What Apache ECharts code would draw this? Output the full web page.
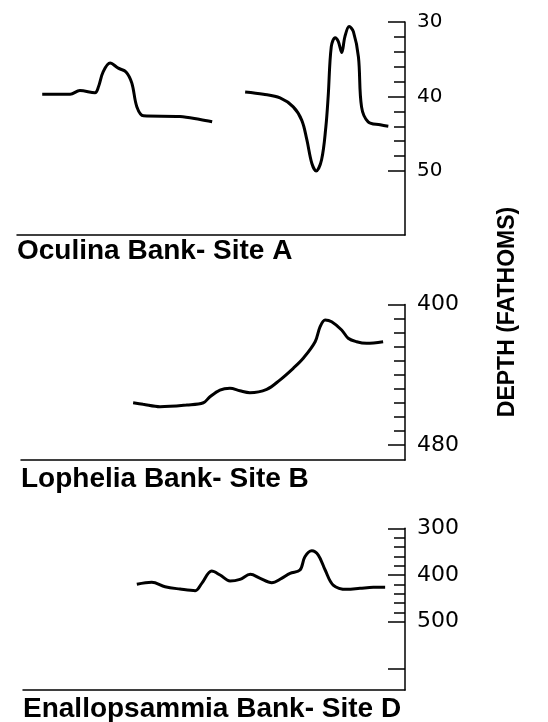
<!DOCTYPE html>
<html>
<head>
<meta charset="utf-8">
<script src="https://cdn.jsdelivr.net/npm/echarts@6/dist/echarts.min.js"></script>
<style>
html,body{margin:0;padding:0;background:#fff;}
#chart{width:548px;height:722px;}
</style>
</head>
<body>
<div id="chart"></div>
<script>
// ---- Data (horizontal distance in arbitrary units 0-100, depth in fathoms) ----
const oculinaWestX = [6.5,13.7,16.2,20.1,21.0,22.2,24.0,26.1,28.1,29.6,30.9,32.6,42.0,47.2,50.3];
const oculinaWestDepth = [39.7,39.7,39.2,39.5,38.7,36.7,35.5,36.2,36.7,38.2,41.4,42.6,42.7,43.1,43.4];
const oculinaEastX = [58.8,63.5,67.8,71.2,73.4,74.7,76.0,77.1,78.5,79.6,80.2,81.0,82.0,82.8,83.7,84.5,85.6,86.7,88.0,88.8,90.5,93.6,95.7];
const oculinaEastDepth = [39.4,39.7,40.2,41.4,43.2,45.8,49.0,50.0,48.5,44.1,40.0,33.3,32.1,32.6,34.1,32.0,30.6,31.3,34.7,41.4,43.4,43.8,44.0];

const opheliaX = [29.2,31.8,36.2,43.2,47.5,49.2,51.8,54.4,57.0,59.6,64.0,67.4,70.9,73.5,76.6,77.9,79.2,80.9,83.5,85.2,87.4,90.0,94.3];
const opheliaDepth = [455.9,456.8,458.2,457.2,455.9,452.5,448.7,447.7,449.1,450.2,448.3,443.0,436.3,430.6,421.2,412.6,408.8,409.8,414.5,419.2,421.2,422.1,421.2];

const enallX = [29.8,33.7,37.2,41.1,45.1,46.8,49.4,51.6,54.2,56.8,59.5,62.1,65.1,67.7,69.9,72.5,73.8,75.6,77.3,79.1,81.2,84.8,88.2,91.7,94.8];
const enallDepth = [419.9,415.6,425.1,430.0,433.6,417.8,391.4,400.0,412.8,409.2,398.5,407.1,416.5,407.1,396.4,389.3,360.8,348.0,357.2,389.3,421.4,430.6,428.5,426.3,426.3];

// tick values
const ticksA_major = [30,40,50];
const ticksA_minor = [32,34,36,38,42,44,46,48];
const labelsA = [30,40,50];
const ticksB_major = [400,480];
const ticksB_minor = [408,416,424,432,440,448,456,464,472];
const labelsB = [400,480];
const ticksD_major = [300,400,500,600];
const ticksD_minor = [320,340,360,380,420,440,460,480];
const labelsD = [300,400,500];

const panelTitles = ['Oculina Bank- Site A','Lophelia Bank- Site B','Enallopsammia Bank- Site D'];
const depthTitle = 'DEPTH (FATHOMS)';

const zip = (xs, ys) => xs.map((x, i) => [x, ys[i]]);

const chart = echarts.init(document.getElementById('chart'), null, {renderer:'canvas'});

const panelGrids = [
  {left:17, top:22, width:388, height:213},
  {left:21, top:304.5, width:384, height:155.5},
  {left:23, top:528.3, width:382, height:161.7}
];
const ranges = [[30,58.6],[400,488.5],[300,646]];
const majors = [ticksA_major, ticksB_major, ticksD_major];
const minors = [ticksA_minor, ticksB_minor, ticksD_minor];
const labels = [labelsA, labelsB, labelsD];
const labelSizes = [20,22,22];

// grids 0-2: main panels; grids 3-5: overlays carrying the minor ticks
const grids = [...panelGrids, ...panelGrids.map(g => ({...g}))];

const xAxes = [];
const yAxes = [];
panelGrids.forEach((g, i) => {
  xAxes.push({
    type:'value', gridIndex:i, min:0, max:100, position:'bottom',
    axisLine:{show:true, onZero:false, lineStyle:{color:'#000', width:1.5}},
    axisTick:{show:false}, axisLabel:{show:false}, splitLine:{show:false}
  });
  yAxes.push({
    type:'value', gridIndex:i, position:'right', inverse:true,
    min:ranges[i][0], max:ranges[i][1],
    axisLine:{show:true, onZero:false, lineStyle:{color:'#000', width:1.5}},
    axisTick:{show:true, inside:true, length:17, customValues:majors[i], lineStyle:{color:'#000', width:1.5}},
    axisLabel:{show:true, customValues:labels[i], margin:12, color:'#000', fontSize:labelSizes[i], fontFamily:'DejaVu Sans'},
    splitLine:{show:false}
  });
});
panelGrids.forEach((g, i) => {
  xAxes.push({
    type:'value', gridIndex:i+3, min:0, max:100, show:false
  });
  yAxes.push({
    type:'value', gridIndex:i+3, position:'right', inverse:true,
    min:ranges[i][0], max:ranges[i][1],
    axisLine:{show:false, onZero:false},
    axisTick:{show:true, inside:true, length:11, customValues:minors[i], lineStyle:{color:'#000', width:1.5}},
    axisLabel:{show:false},
    splitLine:{show:false}
  });
});

const lineStyle = {color:'#000', width:3};
const mk = (data, gi) => ({
  type:'line', xAxisIndex:gi, yAxisIndex:gi, data, smooth:0.35,
  showSymbol:false, symbol:'none', lineStyle, silent:true
});

const titleY = [252, 480, 710];
const titleX = [17, 21, 23];

chart.setOption({
  animation:false,
  backgroundColor:'#fff',
  grid:grids,
  xAxis:xAxes,
  yAxis:yAxes,
  series:[
    mk(zip(oculinaWestX, oculinaWestDepth), 0),
    mk(zip(oculinaEastX, oculinaEastDepth), 0),
    mk(zip(opheliaX, opheliaDepth), 1),
    mk(zip(enallX, enallDepth), 2)
  ],
  graphic:[
    ...panelTitles.map((t, i) => ({
      type:'text', left:titleX[i], top:titleY[i]-15,
      style:{text:t, fill:'#000', font:'bold 28px "Liberation Sans", Arial, sans-serif', textVerticalAlign:'top'}
    })),
    {
      type:'text', x:508, y:312, rotation:Math.PI/2,
      style:{text:depthTitle, fill:'#000', font:'bold 23px "Liberation Sans", Arial, sans-serif', textAlign:'center', textVerticalAlign:'middle'}
    }
  ]
});
</script>
</body>
</html>
